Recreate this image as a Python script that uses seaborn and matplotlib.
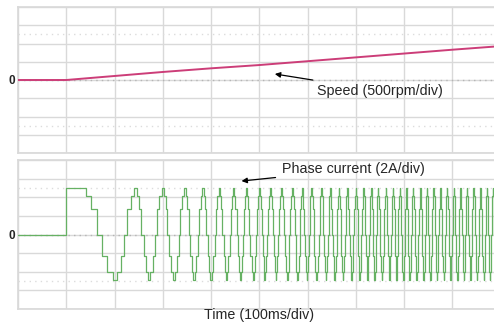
import matplotlib

matplotlib.use("Agg")
import matplotlib.pyplot as plt
import numpy as np
import pandas as pd
import seaborn as sns

# time axis in divisions (1 div = 100 ms), vertical axes in divisions
SPEED_T = [0, 1, 2, 3, 4, 5, 6, 7, 8, 9, 9.86]
SPEED_DIV = [0, 0, 0.22, 0.44, 0.64, 0.82, 1.03, 1.24, 1.45, 1.66, 1.83]

# stair levels of one current cycle (30 degree steps, starting at the peak)
STEP_LEVELS = [2.5, 2.05, 1.35, 0, -1.15, -2.0, -2.45, -2.0, -1.15, 0, 1.35, 2.05]

CURRENT_START = 1.0
HOLD_END = 1.41
FIRST_TROUGH = 2.02
PEAK_TIMES = [
    2.44, 3.00, 3.46, 3.83, 4.17, 4.47, 4.74, 5.00, 5.23, 5.46,
    5.69, 5.89, 6.08, 6.29, 6.47, 6.65, 6.82, 7.00, 7.16, 7.32,
    7.46, 7.62, 7.77, 7.91, 8.05, 8.18, 8.34, 8.47, 8.61, 8.75,
    8.89, 9.03, 9.17, 9.30, 9.44, 9.58, 9.72, 9.84, 9.98,
]

X_MAX = 9.86
GRID_COLOR = "#d9d9d9"


def build_current_trace():
    """Turn the read peak times into a stair-stepped current trace."""
    anchor_t = [HOLD_END, FIRST_TROUGH] + PEAK_TIMES
    anchor_ph = [15, 180] + [360 * (k + 1) for k in range(len(PEAK_TIMES))]
    bounds = np.arange(15, anchor_ph[-1], 30)
    bound_t = np.interp(bounds, anchor_ph, anchor_t)

    times = [0.0, CURRENT_START]
    levels = [0.0, STEP_LEVELS[0]]
    for m, bt in enumerate(bound_t):
        times.append(bt)
        levels.append(STEP_LEVELS[(m + 1) % len(STEP_LEVELS)])
    times.append(anchor_t[-1])
    levels.append(levels[-1])
    return pd.DataFrame({"t": times, "i": levels})


def style_panel(ax):
    ax.set_xlim(0, X_MAX)
    ax.set_ylim(-4, 4)
    ax.set_xticks(range(0, 10))
    ax.set_yticks(range(-4, 5))
    ax.set_xticklabels([])
    ax.set_yticklabels(["0" if v == 0 else "" for v in range(-4, 5)])
    ax.tick_params(length=0, pad=2, labelsize=8.5)
    for lab in ax.get_yticklabels():
        lab.set_fontweight("bold")
    ax.grid(True, color=GRID_COLOR, linewidth=1)
    for side in ["top", "bottom", "left"]:
        ax.spines[side].set_color(GRID_COLOR)
    ax.spines["right"].set_visible(False)
    for y in [-2.5, 0, 2.5]:
        ax.axhline(y, color="#b5b5b5" if y == 0 else "#dcdcdc",
                   linestyle=(0, (1, 3)), linewidth=1, zorder=1)
    ax.set_xlabel("")
    ax.set_ylabel("")


def main():
    sns.set_theme(style="white")
    plt.rcParams["font.family"] = ["Liberation Sans", "DejaVu Sans"]

    fig = plt.figure(figsize=(4.94, 3.24), dpi=100)
    ax_top = fig.add_axes([18 / 494, 171 / 324, 476 / 494, 146 / 324])
    ax_bot = fig.add_axes([18 / 494, 15 / 324, 476 / 494, 149 / 324])

    speed = pd.DataFrame({"t": SPEED_T, "v": SPEED_DIV})
    sns.lineplot(data=speed, x="t", y="v", ax=ax_top, color="#cc3d78",
                 linewidth=1.4, estimator=None, zorder=3)
    style_panel(ax_top)
    ax_top.annotate("Speed (500rpm/div)", xy=(5.32, 0.33), xytext=(6.19, -0.59),
                    fontsize=10.3, va="center", ha="left",
                    arrowprops=dict(arrowstyle="-|>", color="black", lw=0.9,
                                    shrinkA=2, shrinkB=0, mutation_scale=8))

    current = build_current_trace()
    sns.lineplot(data=current, x="t", y="i", ax=ax_bot, color="#66b163",
                 linewidth=0.9, estimator=None, drawstyle="steps-post", zorder=3)
    style_panel(ax_bot)
    ax_bot.annotate("Phase current (2A/div)", xy=(4.63, 2.87), xytext=(5.46, 3.49),
                    fontsize=10.3, va="center", ha="left", annotation_clip=False,
                    arrowprops=dict(arrowstyle="-|>", color="black", lw=0.9,
                                    shrinkA=2, shrinkB=0, mutation_scale=8))

    fig.text(259 / 494, 1 - 315 / 324, "Time (100ms/div)", fontsize=10.3,
             ha="center", va="center")

    fig.savefig("out.png", dpi=100, facecolor="white")
    plt.close(fig)


if __name__ == "__main__":
    main()
